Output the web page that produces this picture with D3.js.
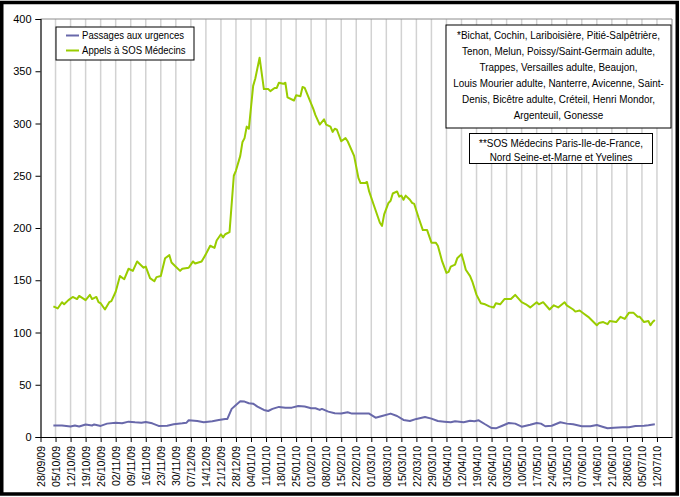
<!DOCTYPE html>
<html>
<head>
<meta charset="utf-8">
<script src="https://cdn.jsdelivr.net/npm/d3@7"></script>
<style>
  body { margin: 0; background: #fff; }
  svg { display: block; font-family: "Liberation Sans", Arial, sans-serif; }
</style>
</head>
<body>
<div id="chart"></div>
<script>
// Passages aux urgences (daily)
const urgDates = ["04/10/09","08/10/09","12/10/09","14/10/09","16/10/09","19/10/09","22/10/09","23/10/09","26/10/09","29/10/09",
  "02/11/09","05/11/09","08/11/09","11/11/09","14/11/09","16/11/09","19/11/09","22/11/09","26/11/09","29/11/09",
  "03/12/09","05/12/09","06/12/09","10/12/09","13/12/09","17/12/09","20/12/09","23/12/09","24/12/09","26/12/09",
  "28/12/09","30/12/09","01/01/10","03/01/10","05/01/10","07/01/10","10/01/10","12/01/10","14/01/10","17/01/10",
  "20/01/10","23/01/10","26/01/10","29/01/10","01/02/10","03/02/10","05/02/10","06/02/10","09/02/10","12/02/10",
  "15/02/10","18/02/10","20/02/10","23/02/10","28/02/10","03/03/10","06/03/10","10/03/10","13/03/10","16/03/10",
  "19/03/10","22/03/10","26/03/10","29/03/10","01/04/10","04/04/10","07/04/10","09/04/10","13/04/10","16/04/10",
  "18/04/10","20/04/10","23/04/10","26/04/10","28/04/10","01/05/10","04/05/10","07/05/10","10/05/10","14/05/10",
  "17/05/10","19/05/10","21/05/10","24/05/10","28/05/10","31/05/10","03/06/10","07/06/10","11/06/10","14/06/10",
  "17/06/10","19/06/10","22/06/10","26/06/10","29/06/10","02/07/10","06/07/10","08/07/10","11/07/10"];
const urgValues = [11, 11, 10, 11, 10, 12, 11, 12, 10.6, 12.8,
  13.7, 13.1, 14.7, 14.1, 13.7, 14.4, 13.1, 10.6, 10.8, 12.2,
  13.1, 13.7, 16, 15.3, 14.1, 15, 16.3, 17.3, 17.3, 26.9,
  30.7, 34.2, 33.9, 32.3, 31.9, 29.1, 25.9, 24.9, 26.9, 28.8,
  28.1, 28.1, 29.7, 29.1, 27.5, 27.5, 25.9, 26.9, 24.3, 22.7,
  22.4, 23.7, 22.4, 22.4, 22.4, 18.5, 20.1, 22.4, 20.1, 16.3,
  15.3, 17.3, 19.2, 17.6, 15.3, 14.7, 14.1, 15, 14.1, 15.6,
  15, 16, 12.2, 8.6, 8.3, 10.8, 13.4, 12.8, 9.9, 11.8,
  13.4, 12.8, 10.3, 10.8, 14.1, 12.8, 12.2, 10.3, 10.3, 11.5,
  9.6, 8.3, 8.9, 9.3, 9.3, 10.6, 10.8, 11.2, 12.2];

// Appels à SOS Médecins
const sosDates = ["04/10/09","06/10/09","08/10/09","09/10/09","11/10/09","13/10/09","15/10/09","16/10/09","19/10/09","21/10/09",
  "22/10/09","24/10/09","25/10/09","26/10/09","28/10/09","30/10/09","31/10/09","02/11/09","04/11/09","06/11/09",
  "08/11/09","10/11/09","12/11/09","15/11/09","16/11/09","18/11/09","20/11/09","21/11/09","23/11/09","25/11/09",
  "27/11/09","28/11/09","30/11/09","02/12/09","03/12/09","06/12/09","08/12/09","09/12/09","12/12/09","14/12/09",
  "16/12/09","18/12/09","19/12/09","21/12/09","22/12/09","23/12/09","25/12/09","27/12/09","28/12/09","30/12/09",
  "31/12/09","01/01/10","02/01/10","03/01/10","05/01/10","06/01/10","08/01/10","10/01/10","12/01/10","13/01/10",
  "15/01/10","16/01/10","17/01/10","19/01/10","20/01/10","21/01/10","24/01/10","25/01/10","27/01/10","28/01/10",
  "29/01/10","02/02/10","03/02/10","05/02/10","07/02/10","08/02/10","10/02/10","11/02/10","12/02/10","13/02/10",
  "15/02/10","17/02/10","18/02/10","21/02/10","23/02/10","24/02/10","26/02/10","27/02/10","28/02/10","02/03/10",
  "05/03/10","06/03/10","07/03/10","09/03/10","10/03/10","11/03/10","13/03/10","14/03/10","15/03/10","16/03/10",
  "17/03/10","19/03/10","20/03/10","21/03/10","23/03/10","25/03/10","27/03/10","29/03/10","31/03/10","01/04/10",
  "03/04/10","05/04/10","06/04/10","07/04/10","09/04/10","10/04/10","12/04/10","13/04/10","14/04/10","16/04/10",
  "17/04/10","19/04/10","21/04/10","23/04/10","25/04/10","27/04/10","28/04/10","30/04/10","02/05/10","05/05/10",
  "06/05/10","07/05/10","10/05/10","12/05/10","14/05/10","17/05/10","18/05/10","20/05/10","23/05/10","25/05/10",
  "27/05/10","30/05/10","31/05/10","03/06/10","04/06/10","06/06/10","08/06/10","10/06/10","12/06/10","14/06/10",
  "15/06/10","17/06/10","19/06/10","20/06/10","23/06/10","25/06/10","27/06/10","29/06/10","01/07/10","03/07/10",
  "04/07/10","06/07/10","08/07/10","09/07/10","10/07/10","11/07/10"];
const sosValues = [125, 123, 129, 127, 131, 134, 132, 135, 131, 136,
  132, 134, 129, 128, 122, 129, 130, 139, 154, 151,
  161, 159, 168, 162, 163, 152, 149, 153, 154, 171,
  174, 167, 163, 159, 161, 162, 168, 166, 168, 175,
  183, 181, 188, 194, 191, 194, 196, 250, 255, 269,
  282, 286, 297, 295, 336, 343, 363, 333, 333, 331,
  334, 334, 339, 338, 339, 325, 322, 327, 326, 335,
  334, 314, 308, 299, 304, 299, 297, 292, 295, 294,
  283, 286, 283, 269, 248, 243, 243, 244, 235, 223,
  205, 202, 213, 224, 226, 233, 235, 230, 231, 227,
  231, 227, 224, 223, 210, 198, 198, 186, 186, 183,
  168, 157, 158, 163, 165, 171, 175, 168, 160, 154,
  149, 136, 128, 127, 125, 124, 128, 127, 132, 132,
  134, 136, 129, 127, 124, 129, 127, 129, 122, 126,
  124, 129, 126, 122, 120, 121, 118, 115, 111, 107,
  109, 110, 108, 111, 110, 115, 113, 119, 119, 115,
  115, 110, 111, 107, 110, 112];

const seriesNames = ["Passages aux urgences", "Appels à SOS Médecins"];
const seriesColors = ["#6868aa", "#99cc00"];
const yTicks = [0, 50, 100, 150, 200, 250, 300, 350, 400];
const notesHospitals = [
  "*Bichat, Cochin, Lariboisière, Pitié-Salpêtrière,",
  "Tenon, Melun, Poissy/Saint-Germain adulte,",
  "Trappes, Versailles adulte, Beaujon,",
  "Louis Mourier adulte, Nanterre, Avicenne, Saint-",
  "Denis, Bicêtre adulte, Créteil, Henri Mondor,",
  "Argenteuil, Gonesse"
];
const notesSos = [
  "**SOS Médecins Paris-Ile-de-France,",
  "Nord Seine-et-Marne et Yvelines"
];

const W = 680, H = 497;
const parse = d3.timeParse("%d/%m/%y");
const fmt = d3.timeFormat("%d/%m/%y");

const svg = d3.select("#chart").append("svg")
  .attr("width", W)
  .attr("height", H);

svg.append("rect").attr("width", W).attr("height", H).attr("fill", "#fff");

// plot area
const plotLeft = 40.5, plotRight = 672, plotTop = 19, plotBottom = 437;

const x = d3.scaleTime()
  .domain([parse("28/09/09"), parse("19/07/10")])
  .range([plotLeft, plotRight]);
const y = d3.scaleLinear().domain([0, 400]).range([plotBottom, plotTop]);

const weeks = d3.timeMonday.range(parse("28/09/09"), parse("13/07/10"));

// vertical gridlines
svg.append("g")
  .selectAll("line")
  .data(weeks.slice(1))
  .enter()
  .append("line")
  .attr("x1", d => x(d)).attr("x2", d => x(d))
  .attr("y1", plotTop).attr("y2", plotBottom)
  .attr("stroke", "#d2d2d2")
  .attr("stroke-width", 1.5);

// plot area border (top/right)
svg.append("path")
  .attr("d", `M${plotLeft},${plotTop}H${plotRight}V${plotBottom}`)
  .attr("fill", "none")
  .attr("stroke", "#8c8c8c")
  .attr("stroke-width", 1);

// lines
const line = d3.line()
  .x(d => x(d[0]))
  .y(d => y(d[1]));

const urg = urgDates.map((d, i) => [parse(d), urgValues[i]]);
const sos = sosDates.map((d, i) => [parse(d), sosValues[i]]);

[urg, sos].forEach((data, i) => {
  svg.append("path")
    .datum(data)
    .attr("fill", "none")
    .attr("stroke", seriesColors[i])
    .attr("stroke-width", 2)
    .attr("stroke-linejoin", "round")
    .attr("d", line);
});

// y axis
const yAxis = svg.append("g")
  .attr("transform", `translate(${plotLeft},0)`)
  .call(d3.axisLeft(y).tickValues(yTicks).tickSize(5).tickPadding(4));
yAxis.select(".domain").attr("stroke", "#000").attr("stroke-width", 1.2);
yAxis.selectAll(".tick line").attr("stroke", "#000");
yAxis.selectAll("text")
  .attr("font-family", "Liberation Sans, Arial, sans-serif")
  .attr("font-size", 11)
  .attr("fill", "#000");

// x axis
const xAxis = svg.append("g")
  .attr("transform", `translate(0,${plotBottom})`)
  .call(d3.axisBottom(x).tickValues(weeks).tickFormat(fmt).tickSize(5).tickSizeOuter(0));
xAxis.select(".domain").attr("stroke", "#000").attr("stroke-width", 1.2);
xAxis.selectAll(".tick line").attr("stroke", "#000");
xAxis.selectAll("text")
  .attr("font-family", "Liberation Sans, Arial, sans-serif")
  .attr("font-size", 10.5)
  .attr("fill", "#000")
  .attr("text-anchor", "end")
  .attr("transform", "rotate(-90)")
  .attr("x", -9)
  .attr("y", 0)
  .attr("dy", "0.35em");

// legend
const legend = svg.append("g");
legend.append("rect")
  .attr("x", 56).attr("y", 27)
  .attr("width", 138).attr("height", 33)
  .attr("fill", "#fff")
  .attr("stroke", "#000")
  .attr("stroke-width", 1);
seriesNames.forEach((name, i) => {
  const ly = 35.5 + i * 15;
  legend.append("line")
    .attr("x1", 66).attr("x2", 79)
    .attr("y1", ly).attr("y2", ly)
    .attr("stroke", seriesColors[i])
    .attr("stroke-width", 2);
  legend.append("text")
    .attr("transform", `translate(82,${ly + 3.8}) scale(0.87,1)`)
    .attr("font-size", 11)
    .text(name);
});

// notes boxes
function noteBox(lines, x0, y0, w, h, cx, firstBase, lineStep) {
  const g = svg.append("g");
  g.append("rect")
    .attr("x", x0).attr("y", y0)
    .attr("width", w).attr("height", h)
    .attr("fill", "#fff")
    .attr("stroke", "#000")
    .attr("stroke-width", 1);
  g.selectAll("text")
    .data(lines)
    .enter()
    .append("text")
    .attr("transform", (d, i) => `translate(${cx},${firstBase + i * lineStep}) scale(0.9,1)`)
    .attr("text-anchor", "middle")
    .attr("font-size", 11)
    .text(d => d);
}
noteBox(notesHospitals, 446, 25, 225, 103, 558.5, 39, 16);
noteBox(notesSos, 469.5, 133.5, 183, 30, 561, 147, 13.5);

// outer frame
svg.append("rect")
  .attr("x", 1.75).attr("y", 2.5)
  .attr("width", 675.5).attr("height", 491.5)
  .attr("fill", "none")
  .attr("stroke", "#000")
  .attr("stroke-width", 3.5);
</script>
</body>
</html>
